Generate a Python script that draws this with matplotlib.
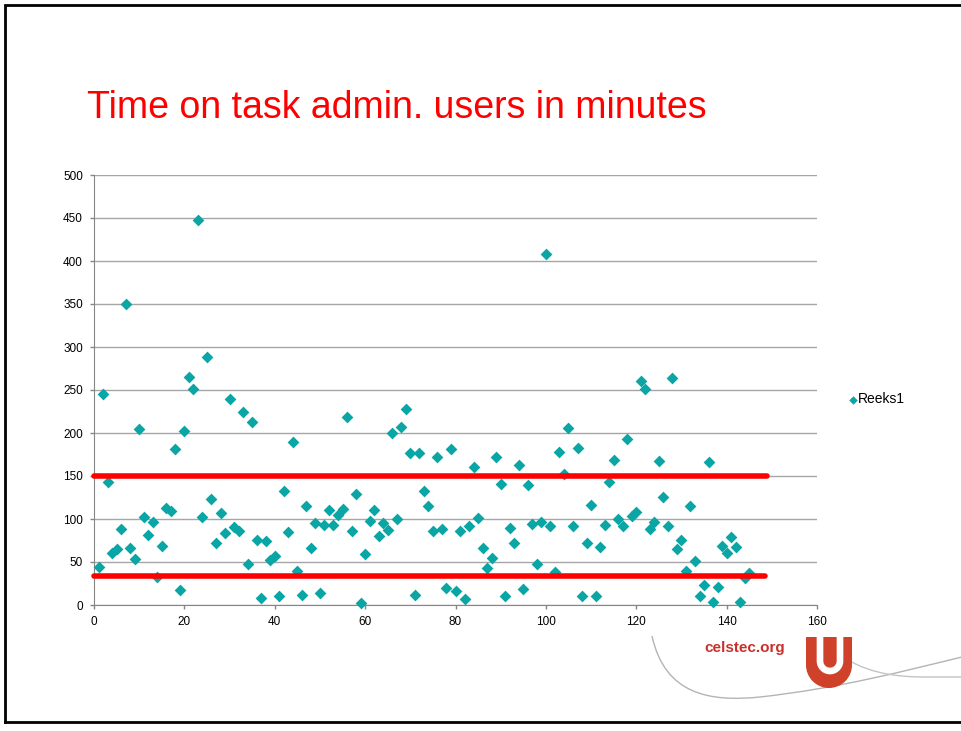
import numpy as np
from matplotlib.pyplot import figure
from matplotlib.path import Path
from matplotlib.patches import PathPatch, Rectangle, Wedge

import matplotlib
matplotlib.rcParams['font.family'] = ['Liberation Sans', 'DejaVu Sans']

# %% data
minutes = [44, 245, 143, 61, 65, 88, 350, 66, 53, 205,
           102, 81, 97, 32, 69, 113, 109, 181, 17, 202,
           265, 251, 448, 102, 288, 123, 72, 107, 84, 240,
           91, 86, 225, 48, 213, 76, 8, 74, 52, 57,
           10, 132, 85, 190, 39, 12, 115, 66, 95, 14,
           93, 110, 93, 105, 112, 219, 86, 129, 2, 59,
           98, 110, 80, 95, 87, 200, 100, 207, 228, 177,
           12, 177, 133, 115, 86, 172, 88, 20, 181, 16,
           86, 7, 92, 160, 101, 66, 43, 55, 172, 141,
           10, 89, 72, 163, 19, 140, 94, 48, 96, 408,
           92, 38, 178, 152, 206, 92, 182, 10, 72, 116,
           10, 68, 93, 143, 169, 100, 92, 193, 103, 108,
           261, 251, 88, 97, 168, 126, 92, 264, 65, 76,
           40, 115, 51, 10, 23, 166, 3, 21, 69, 60,
           79, 67, 3, 31, 37]
users = np.arange(1, len(minutes) + 1)

series_name = 'Reeks1'
title = 'Time on task admin. users in minutes'
xticks = [0, 20, 40, 60, 80, 100, 120, 140, 160]
yticks = [0, 50, 100, 150, 200, 250, 300, 350, 400, 450, 500]

# red marker lines drawn on the slide: (level, end of line)
upper_line = (150, 149)
lower_line = (34, 148.5)

W, H = 961, 731
teal = '#0aa5a5'
grid = '#a6a6a6'

fg = figure(figsize=(W / 100, H / 100), dpi=100)

# %% slide background: border, title, logo (pixel coordinates)
bg = fg.add_axes([0, 0, 1, 1])
bg.set_xlim(0, W)
bg.set_ylim(H, 0)
bg.axis('off')

bg.plot([5, 5, W + 5], [722, 5, 5], color='k', lw=2, solid_joinstyle='miter')
bg.plot([5, W + 5], [722, 722], color='k', lw=2)

bg.text(87, 118, title, color='#ff0000', fontsize=27, va='baseline', ha='left')

swoosh = Path([(652, 636), (665, 695), (710, 702), (760, 697),
               (840, 688), (900, 672), (962, 657)],
              [Path.MOVETO] + [Path.CURVE4] * 6)
bg.add_patch(PathPatch(swoosh, fc='none', ec='#b4b4b4', lw=1))
swoosh2 = Path([(836, 652), (862, 672), (892, 677), (925, 677), (962, 677)],
               [Path.MOVETO, Path.CURVE4, Path.CURVE4, Path.CURVE4, Path.LINETO])
bg.add_patch(PathPatch(swoosh2, fc='none', ec='#c4c4c4', lw=1))

bg.text(745, 648, 'celstec.org', color='#c9302c', fontsize=11, fontweight='bold',
        ha='center', va='center')
# U shield
shield = '#d0412a'
bg.add_patch(Rectangle((806, 637), 46, 28, fc=shield, ec='none', zorder=2))
bg.add_patch(Wedge((829, 665), 23, 0, 180, fc=shield, ec='none', zorder=2))
t = np.linspace(np.pi, 0, 30)
ux = np.r_[820, 830 + 10 * np.cos(t), 840]
uy = np.r_[637, 661 + 10 * np.sin(t), 637]
bg.plot(ux, uy, color='white', lw=4.8, solid_capstyle='butt', zorder=3)

# %% the chart
ax = fg.add_axes([94 / W, (H - 605) / H, 723 / W, 430 / H])
ax.set_facecolor('none')

ax.scatter(users, minutes, marker='D', s=36, color=teal, linewidths=0,
           label=series_name, zorder=3, clip_on=False)

ax.plot([0, upper_line[1]], [upper_line[0]] * 2, color='#ff0000', lw=4,
        solid_capstyle='round', zorder=4, clip_on=False)
ax.plot([0, lower_line[1]], [lower_line[0]] * 2, color='#ff0000', lw=4,
        solid_capstyle='round', zorder=4, clip_on=False)

ax.set_xlim(0, 160)
ax.set_ylim(0, 500)
ax.set_xticks(xticks)
ax.set_yticks(yticks)
ax.tick_params(labelsize=8.5, length=3, width=1, color='#868686', direction='out', pad=5)
ax.grid(axis='y', color=grid, lw=1)
ax.set_axisbelow(True)
for side in ('top', 'right'):
    ax.spines[side].set_visible(False)
for side in ('left', 'bottom'):
    ax.spines[side].set_color('#868686')

ax.legend(loc='center left', bbox_to_anchor=(1.034, 0.478), frameon=False,
          fontsize=10, handletextpad=0.0, handlelength=0.8, markerscale=0.72,
          borderaxespad=0)

fg.savefig('out.png', dpi=100)
